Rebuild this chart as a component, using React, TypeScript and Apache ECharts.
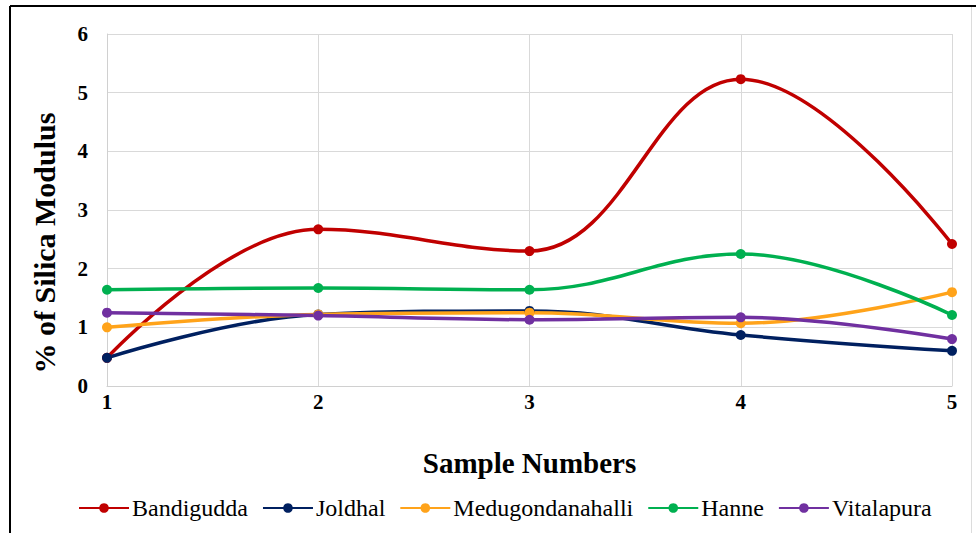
import React, { useEffect, useRef } from "react";
import * as echarts from "echarts";

const samples = [1, 2, 3, 4, 5];
const seriesNames = ["Bandigudda", "Joldhal", "Medugondanahalli", "Hanne", "Vitalapura"];
const bandigudda = [0.48, 2.67, 2.3, 5.23, 2.42];
const joldhal = [0.48, 1.22, 1.28, 0.87, 0.6];
const medugondanahalli = [1.0, 1.22, 1.25, 1.07, 1.6];
const hanne = [1.64, 1.67, 1.64, 2.25, 1.21];
const vitalapura = [1.25, 1.2, 1.13, 1.17, 0.8];
const colors = ["#C00000", "#002060", "#FFA31A", "#00B050", "#7030A0"];
const yAxisTitle = "% of Silica Modulus";
const xAxisTitle = "Sample Numbers";

export default function App() {
  const ref = useRef<HTMLDivElement>(null);
  useEffect(() => {
    if (!ref.current) return;
    const chart = echarts.init(ref.current, null, { renderer: "svg" });
    const allData = [bandigudda, joldhal, medugondanahalli, hanne, vitalapura];
    const font = "'Liberation Serif', 'Times New Roman', serif";
    chart.setOption({
      animation: false,
      backgroundColor: "#ffffff",
      color: colors,
      grid: { left: 107, right: 24, top: 34, bottom: 147, containLabel: false },
      xAxis: {
        type: "value",
        min: 1,
        max: 5,
        interval: 1,
        name: xAxisTitle,
        nameLocation: "middle",
        nameGap: 62,
        nameTextStyle: { fontFamily: font, fontWeight: "bold", fontSize: 29, color: "#000" },
        axisLine: { show: true, lineStyle: { color: "#d0d0d0", width: 1 } },
        axisTick: { show: false },
        axisLabel: { fontFamily: font, fontWeight: "bold", fontSize: 21, color: "#000", margin: 5 },
        splitLine: { show: true, lineStyle: { color: "#d9d9d9", width: 1 } },
      },
      yAxis: {
        type: "value",
        min: 0,
        max: 6,
        interval: 1,
        axisLine: { show: true, lineStyle: { color: "#d0d0d0", width: 1 } },
        axisTick: { show: false },
        axisLabel: { fontFamily: font, fontWeight: "bold", fontSize: 21, color: "#000", margin: 19 },
        splitLine: { show: true, lineStyle: { color: "#d9d9d9", width: 1 } },
      },
      legend: {
        top: 491,
        left: 73,
        itemWidth: 50,
        itemHeight: 12,
        itemGap: 14,
        textStyle: { fontFamily: font, fontSize: 24, color: "#000", padding: [0, 0, 0, -2] },
        data: seriesNames,
      },
      graphic: [
        { type: "line", shape: { x1: 10, y1: 6, x2: 976, y2: 6 }, style: { stroke: "#000", lineWidth: 2 } },
        { type: "line", shape: { x1: 10, y1: 6, x2: 10, y2: 533 }, style: { stroke: "#000", lineWidth: 2 } },
        { type: "line", shape: { x1: 971.5, y1: 7, x2: 971.5, y2: 533 }, style: { stroke: "#dcdcdc", lineWidth: 1 } },
        {
          type: "text",
          x: 44,
          y: 243,
          rotation: Math.PI / 2,
          style: {
            text: yAxisTitle,
            fontFamily: font,
            fontWeight: "bold",
            fontSize: 30,
            fill: "#000",
            align: "center",
            verticalAlign: "middle",
          },
        },
      ],
      series: seriesNames.map((n, i) => ({
        name: n,
        type: "line",
        smooth: 0.4,
        symbol: "circle",
        symbolSize: 10,
        lineStyle: { width: 3.5, color: colors[i] },
        itemStyle: { color: colors[i] },
        data: samples.map((s, j) => [s, allData[i][j]]),
      })),
    });
    return () => chart.dispose();
  }, []);
  return <div ref={ref} style={{ position: "fixed", left: 0, top: 0, width: 976, height: 533 }} />;
}
